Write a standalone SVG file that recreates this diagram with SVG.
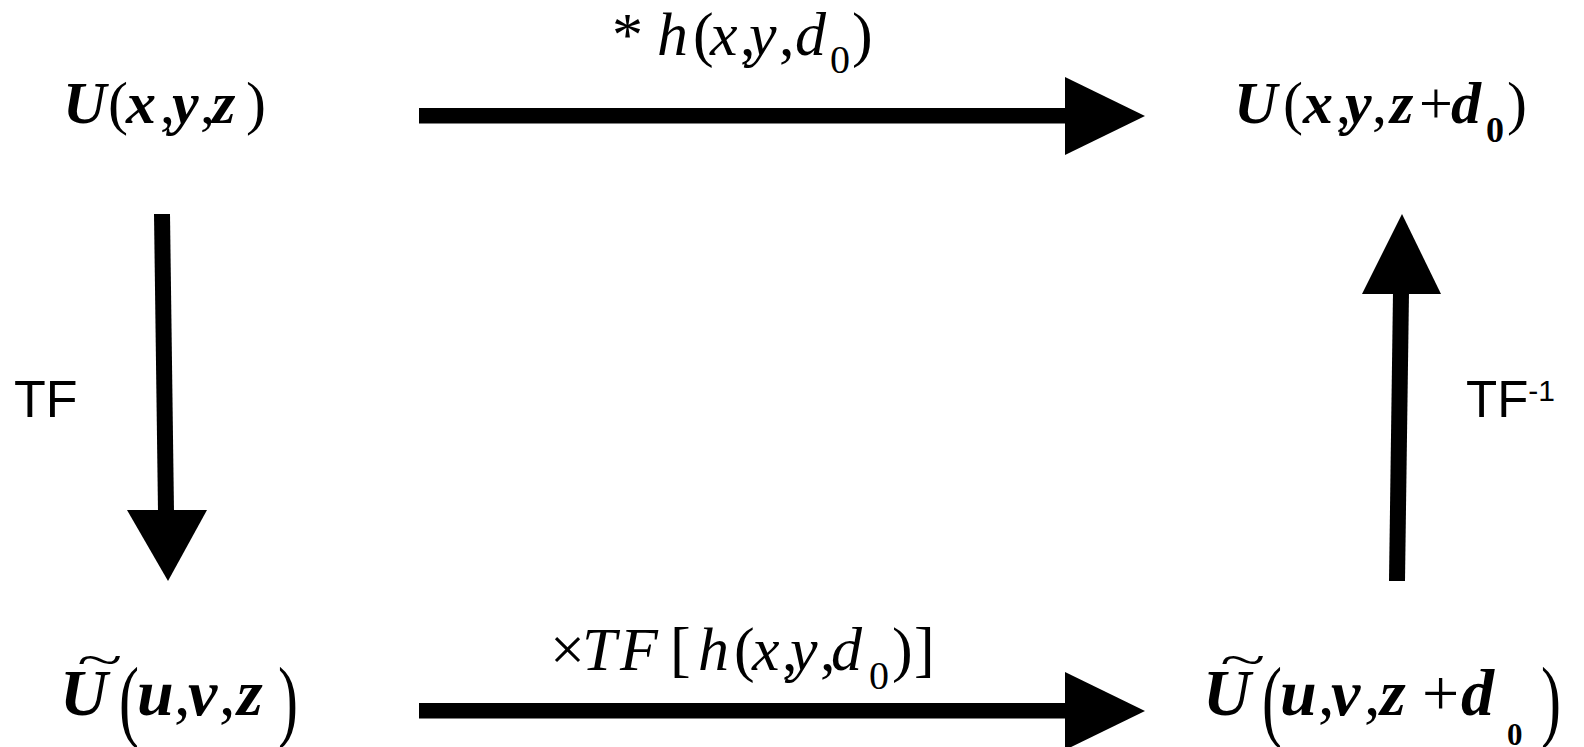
<svg xmlns="http://www.w3.org/2000/svg" width="1584" height="747" viewBox="0 0 1584 747">
<style>
.m{font-family:"Liberation Serif","Times New Roman",serif;fill:#000}
.bi{font-weight:bold;font-style:italic}
.it{font-style:italic}
.s{font-family:"Liberation Sans",Arial,sans-serif;fill:#000}
.a{fill:#000;stroke:none}
</style>
<rect width="1584" height="747" fill="#fff"/>
<g id="connectors">
  <g id="arrow-top">
    <rect class="a" x="419" y="108" width="648" height="15.5"/>
    <polygon class="a" points="1065,77 1145,116 1065,155"/>
  </g>
  <g id="arrow-bottom">
    <rect class="a" x="419" y="703" width="648" height="15.5"/>
    <polygon class="a" points="1065,672 1145,711 1065,750"/>
  </g>
  <g id="arrow-left">
    <polygon class="a" points="154,214 170,214 174,512 158,512"/>
    <polygon class="a" points="127,510 207,510 168,581"/>
  </g>
  <g id="arrow-right">
    <polygon class="a" points="1389,581 1405,581 1409,292 1393,292"/>
    <polygon class="a" points="1362,294 1441,294 1402,214"/>
  </g>
</g>
<g id="node-Uxyz">
  <text class="m" font-size="60" y="123"><tspan class="bi" x="63">U</tspan><tspan x="108">(</tspan><tspan class="bi" x="126">x</tspan><tspan x="160">,</tspan><tspan class="bi" x="172">y</tspan><tspan x="200">,</tspan><tspan class="bi" x="212">z</tspan><tspan x="246">)</tspan></text>
</g>
<g id="node-Uxyzd0">
  <text class="m" font-size="60" y="123"><tspan class="bi" x="1234">U</tspan><tspan x="1283">(</tspan><tspan class="bi" x="1303">x</tspan><tspan x="1336">,</tspan><tspan class="bi" x="1345">y</tspan><tspan x="1372">,</tspan><tspan class="bi" x="1390">z</tspan><tspan x="1419">+</tspan><tspan class="bi" x="1451">d</tspan><tspan font-weight="bold" font-size="36" x="1486" y="142">0</tspan><tspan x="1507" y="123">)</tspan></text>
</g>
<g id="label-conv">
  <text class="m" font-size="62" y="55"><tspan x="612">*</tspan><tspan class="it" x="657">h</tspan><tspan x="693">(</tspan><tspan class="it" x="710">x</tspan><tspan x="740">,</tspan><tspan class="it" x="749">y</tspan><tspan x="779">,</tspan><tspan class="it" x="795">d</tspan><tspan font-size="40" x="830" y="73">0</tspan><tspan x="852" y="55">)</tspan></text>
</g>
<g id="label-mult">
  <text class="m" font-size="62" y="670"><tspan x="550">×</tspan><tspan class="it" x="582">T</tspan><tspan class="it" x="620">F</tspan><tspan x="670">[</tspan><tspan class="it" x="698">h</tspan><tspan x="734">(</tspan><tspan class="it" x="752">x</tspan><tspan x="782">,</tspan><tspan class="it" x="790">y</tspan><tspan x="820">,</tspan><tspan class="it" x="831">d</tspan><tspan font-size="40" x="869" y="689">0</tspan><tspan x="892" y="670">)</tspan><tspan x="914">]</tspan></text>
</g>
<g id="node-Uuvz">
  <text class="m" font-size="80" transform="translate(77,676) scale(1.05,0.6)">~</text>
  <text class="m" font-size="66" y="715"><tspan class="bi" x="60">U</tspan><tspan class="bi" x="137">u</tspan><tspan x="174">,</tspan><tspan class="bi" x="188">v</tspan><tspan x="219">,</tspan><tspan class="bi" x="237">z</tspan></text>
  <text class="m" font-size="60" transform="translate(119,729.5) scale(1,1.5)">(</text>
  <text class="m" font-size="60" transform="translate(278,729.5) scale(1,1.5)">)</text>
</g>
<g id="node-Uuvzd0">
  <text class="m" font-size="80" transform="translate(1220,676) scale(1.05,0.6)">~</text>
  <text class="m" font-size="66" y="715"><tspan class="bi" x="1203">U</tspan><tspan class="bi" x="1280">u</tspan><tspan x="1318">,</tspan><tspan class="bi" x="1331">v</tspan><tspan x="1364">,</tspan><tspan class="bi" x="1380">z</tspan><tspan x="1422">+</tspan><tspan class="bi" x="1461">d</tspan><tspan font-weight="bold" font-size="31" x="1507" y="745">0</tspan></text>
  <text class="m" font-size="60" transform="translate(1262,729.5) scale(1,1.5)">(</text>
  <text class="m" font-size="60" transform="translate(1541,729.5) scale(1,1.5)">)</text>
</g>
<g id="label-TF">
  <text class="s" font-size="52" x="14" y="417">TF</text>
</g>
<g id="label-TFinv">
  <text class="s" font-size="51" x="1466" y="417">TF<tspan font-size="30" dy="-16">-1</tspan></text>
</g>
</svg>
